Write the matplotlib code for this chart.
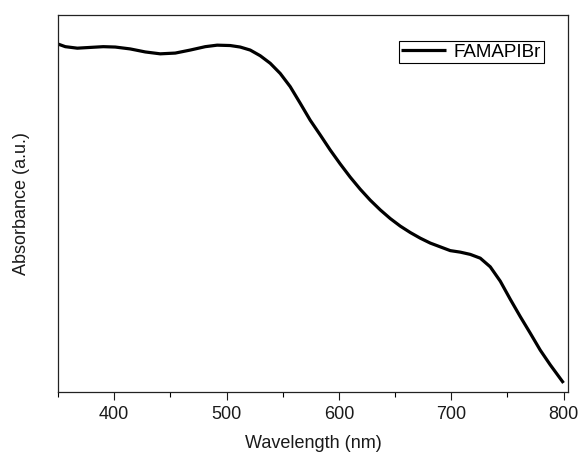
import matplotlib
matplotlib.use("Agg")
import matplotlib.pyplot as plt
from matplotlib.ticker import MultipleLocator

plt.rcParams['font.family'] = ['Liberation Sans', 'DejaVu Sans']

# absorbance spectrum (arbitrary units)
wavelength = [350, 356.5, 367.2, 378.7, 390.3, 401.0, 414.3, 427.7, 441.0, 454.4,
              467.7, 481.1, 491.7, 503.3, 512.2, 521.1, 530.0, 538.9, 547.8,
              556.7, 565.6, 574.5, 583.4, 592.3, 601.2, 610.1, 619.0, 627.9,
              636.9, 645.8, 654.7, 663.6, 672.5, 681.4, 690.3, 699.2, 708.1,
              717.0, 725.9, 734.8, 743.7, 752.6, 761.5, 770.4, 779.3, 788.2, 800]
absorbance = [0.923, 0.916, 0.912, 0.914, 0.916, 0.915, 0.910, 0.902, 0.897, 0.899,
              0.907, 0.916, 0.920, 0.919, 0.915, 0.907, 0.892, 0.872, 0.845,
              0.810, 0.766, 0.721, 0.682, 0.642, 0.605, 0.570, 0.538, 0.509,
              0.483, 0.460, 0.440, 0.423, 0.408, 0.395, 0.385, 0.375, 0.371,
              0.365, 0.355, 0.332, 0.294, 0.246, 0.200, 0.156, 0.111, 0.072, 0.024]
label = 'FAMAPIBr'

fig = plt.figure(figsize=(5.84, 4.61), dpi=100)
ax = fig.add_axes([58 / 584, 1 - 392 / 461, 510 / 584, 377 / 461])

ax.plot(wavelength, absorbance, color='black', linewidth=2.3, label=label,
        solid_joinstyle='round', solid_capstyle='butt')

ax.set_xlim(350, 804)
ax.set_ylim(0, 1)
ax.xaxis.set_major_locator(MultipleLocator(100))
ax.xaxis.set_minor_locator(MultipleLocator(50))
ax.tick_params(axis='x', which='major', direction='out', length=6, width=0.8,
               labelsize=13, colors='#1a1a1a', pad=4)
ax.tick_params(axis='x', which='minor', direction='out', length=3.5, width=0.8)
ax.set_yticks([])
for sp in ax.spines.values():
    sp.set_linewidth(0.9)
    sp.set_color('#222222')

ax.set_xlabel('Wavelength (nm)', fontsize=13, labelpad=9, color='#1a1a1a')
ax.set_ylabel('Absorbance (a.u.)', fontsize=13, labelpad=20, color='#1a1a1a')

leg = ax.legend(loc='upper right', bbox_to_anchor=(0.953, 0.932), borderaxespad=0,
                fontsize=13.5, fancybox=False, framealpha=1, edgecolor='black',
                handlelength=2.4, handletextpad=0.4, borderpad=0.15)
leg.get_frame().set_linewidth(0.8)

fig.savefig('out.png', dpi=100)
